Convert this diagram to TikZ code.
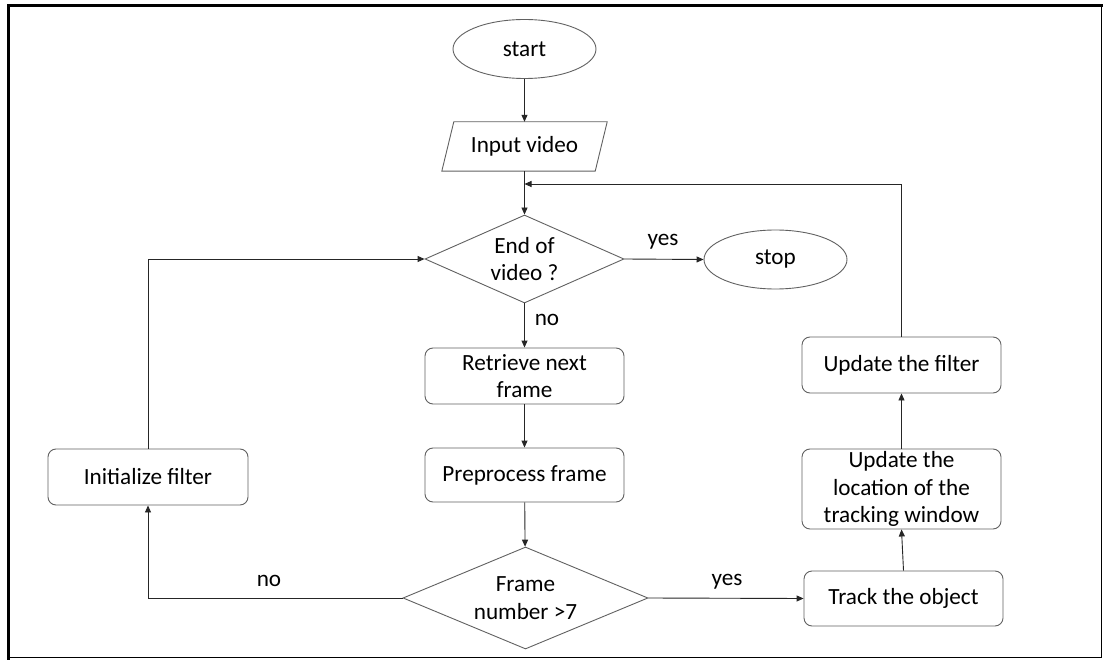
\documentclass[tikz,border=0pt]{standalone}
\usepackage{fontspec}
\setmainfont{Carlito}
\usetikzlibrary{shapes.geometric,arrows.meta}
\begin{document}
\begin{tikzpicture}[x=1pt,y=-1pt,
  every node/.style={font=\fontsize{23.2}{27.5}\selectfont, text=black},
  shapeline/.style={draw=black!62, line width=0.9pt},
  box/.style={shapeline, rounded corners=8pt, minimum width=199pt, minimum height=56pt, align=center, inner sep=0pt},
  term/.style={shapeline, ellipse, minimum width=143pt, minimum height=59pt, inner sep=0pt},
  decision/.style={shapeline, diamond, align=center, inner sep=0pt},
  flow/.style={draw=black!85, line width=0.9pt, -{Triangle[length=7pt,width=6pt]}},
  lbl/.style={inner sep=0pt}
]
\useasboundingbox (0,0) rectangle (1103,660);
\fill[white] (0,0) rectangle (1103,660);

% page frame
\draw[line width=3pt] (8.5,660) -- (8.5,6) -- (1103,6);
\draw[line width=1.2pt] (8.5,657.5) -- (1101.5,657.5) -- (1101.5,6);

% nodes
\node[term] (start) at (524.5,49) {start};
\node[minimum width=153pt, minimum height=49pt, inner sep=0pt] (input) at (524.5,146.5) {Input video};
\draw[shapeline] ([xshift=-6pt]input.south west) -- ([xshift=-6pt]input.south east)
  -- ([xshift=6pt]input.north east) -- ([xshift=6pt]input.north west) -- cycle;
\node[decision, minimum width=199pt, minimum height=88pt, aspect=2.26] (eov) at (524.5,259) {End of\\video ?};
\node[term] (stop) at (775.5,259.5) {stop};
\node[box] (retr) at (524.5,376) {Retrieve next\\frame};
\node[box, minimum height=54pt] (prep) at (524.5,475) {Preprocess frame};
\node[decision, minimum width=245pt, minimum height=102pt, aspect=2.4] (fn) at (525.5,598) {Frame\\number >7};
\node[box, minimum width=200pt] (init) at (148,477) {Initialize filter};
\node[box, minimum height=55pt] (track) at (903.5,598.5) {Track the object};
\node[box, minimum height=80pt] (loc) at (901.5,489) {Update the\\location of the\\tracking window};
\node[box] (upd) at (901.5,365) {Update the filter};

% connectors
\coordinate (merge) at (524.5,184);
\draw[flow] (start.south) -- (input.north);
\draw[flow] (input.south) -- (eov.north);
\draw[flow] (upd.north) |- (merge);
\draw[flow] (eov.east) -- (stop.west);
\node[lbl] (yes1) at (663,242) {yes};
\draw[flow] (eov.south) -- (retr.north);
\node[lbl] (no1) at (547,320) {no};
\draw[flow] (retr) -- (prep);
\draw[flow] (prep) -- (fn);
\draw[flow] (fn.west) -| (init.south);
\node[lbl] (no2) at (269,581) {no};
\draw[flow] (fn.east) -- (track.west);
\node[lbl] (yes2) at (727,582) {yes};
\draw[flow] (track.north) -- (loc.south);
\draw[flow] (loc) -- (upd);
\draw[flow] (init.north) |- (eov.west);
\end{tikzpicture}
\end{document}
